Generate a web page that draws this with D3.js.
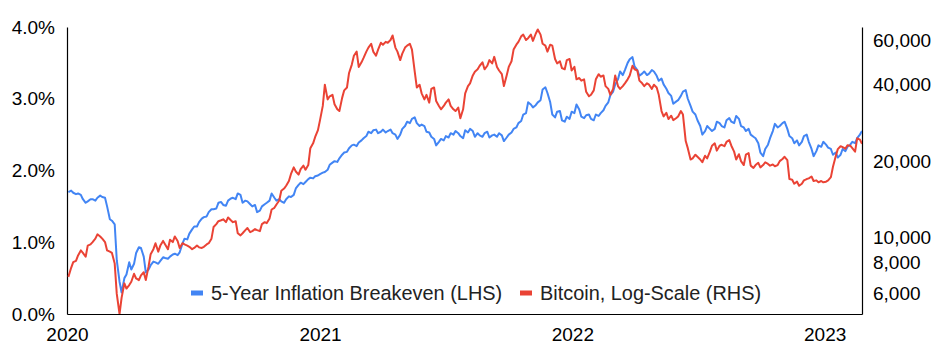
<!DOCTYPE html>
<html>
<head>
<meta charset="utf-8">
<script src="https://cdn.jsdelivr.net/npm/d3@7/dist/d3.min.js"></script>
<style>
  html, body { margin: 0; padding: 0; background: #fff; }
  svg { display: block; font-family: "Liberation Sans", Arial, sans-serif; }
</style>
</head>
<body>
<svg id="chart" width="942" height="354"></svg>
<script>
// ---- Data ----
// Friday observations from 2020-01-03, plus Tuesday observations between them.
const firstFriday = "2020-01-03";

// 5-Year Inflation Breakeven, % (LHS) — Fridays
const breakevenFri = [
  1.70,1.69,1.68,1.60,1.57,1.60,1.62,1.63,1.50,1.30,
  0.75,0.30,0.55,0.62,0.85,0.92,0.58,0.68,0.72,0.74,
  0.78,0.80,0.84,0.86,1.05,1.12,1.22,1.28,1.35,1.42,
  1.46,1.55,1.52,1.58,1.62,1.68,1.55,1.57,1.50,1.42,
  1.50,1.55,1.68,1.58,1.57,1.60,1.63,1.75,1.83,1.84,
  1.90,1.92,1.95,1.98,2.08,2.13,2.17,2.25,2.31,2.36,
  2.39,2.45,2.54,2.56,2.52,2.57,2.55,2.52,2.44,2.58,
  2.68,2.72,2.66,2.64,2.54,2.47,2.35,2.44,2.48,2.52,
  2.55,2.48,2.56,2.58,2.47,2.49,2.52,2.46,2.50,2.52,
  2.41,2.50,2.58,2.66,2.78,2.95,2.88,2.95,3.13,3.08,
  2.78,2.82,2.70,2.75,2.82,2.92,2.75,2.77,2.72,2.78,
  2.80,2.90,3.05,3.20,3.38,3.40,3.55,3.45,3.32,3.38,
  3.35,3.38,3.25,3.20,3.08,2.93,2.98,3.10,3.00,2.82,
  2.70,2.50,2.62,2.55,2.68,2.62,2.70,2.68,2.76,2.62,
  2.55,2.50,2.45,2.25,2.30,2.45,2.65,2.62,2.68,2.48,
  2.38,2.35,2.48,2.40,2.20,2.35,2.40,2.32,2.22,2.18,
  2.30,2.33,2.40,2.45,2.55
];
// 5-Year Inflation Breakeven, % — Tuesdays (between consecutive Fridays)
const breakevenTue = [
  1.72,1.67,1.66,1.55,1.60,1.58,1.65,1.62,1.32,1.25,
  0.45,0.50,0.72,0.70,0.93,0.80,0.62,0.73,0.70,0.79,
  0.77,0.83,0.82,0.98,1.04,1.18,1.22,1.33,1.36,1.46,
  1.47,1.56,1.51,1.61,1.60,1.66,1.58,1.53,1.52,1.44,
  1.53,1.58,1.62,1.60,1.55,1.64,1.66,1.80,1.81,1.88,
  1.89,1.93,1.97,2.01,2.11,2.12,2.22,2.26,2.35,2.34,
  2.42,2.48,2.52,2.57,2.54,2.53,2.57,2.50,2.50,2.62,
  2.66,2.74,2.62,2.62,2.53,2.44,2.40,2.42,2.46,2.50,
  2.52,2.45,2.53,2.55,2.52,2.47,2.54,2.49,2.47,2.49,
  2.46,2.53,2.60,2.69,2.80,2.92,2.91,2.98,3.16,2.95,
  2.74,2.83,2.68,2.72,2.80,2.85,2.73,2.78,2.70,2.76,
  2.84,2.95,3.10,3.27,3.33,3.50,3.58,3.40,3.35,3.33,
  3.40,3.32,3.28,3.14,3.04,2.96,3.04,3.12,2.90,2.78,
  2.62,2.55,2.58,2.58,2.66,2.60,2.73,2.66,2.72,2.60,
  2.58,2.47,2.38,2.20,2.36,2.55,2.60,2.66,2.58,2.45,
  2.42,2.40,2.50,2.30,2.27,2.33,2.36,2.30,2.25,2.22,
  2.27,2.36,2.38,2.50
];

// Bitcoin price, USD (RHS, log scale) — Fridays
const bitcoinFri = [
  7000,8000,8500,8700,9300,9600,10300,9900,8900,8700,
  6000,5800,6300,6700,6900,7100,6800,8600,9500,9300,
  9400,9800,10100,9100,9400,9200,9100,9150,9200,9500,
  11000,11600,11800,12000,11500,10400,10400,10900,10600,10700,
  11300,11400,12900,13500,15300,16000,17800,18200,18600,18500,
  22500,24900,29000,40000,36000,33500,31500,38000,44500,52000,
  47000,51000,56000,54000,55000,57500,58500,62500,54000,53000,
  57000,55000,39000,37000,36500,38500,34500,32000,34000,33000,
  31500,29500,37000,40500,45000,47500,46000,50000,51500,45500,
  39500,47000,55000,59000,63000,61000,59500,66000,58000,54000,
  57000,48500,46500,50000,45500,42000,41500,37500,36500,42000,
  43000,39500,36500,43500,38500,40500,43500,46000,41500,39500,
  40000,40000,36500,30000,29300,29000,30000,30500,22500,20500,
  20800,19800,20500,23000,22000,23200,23800,23000,20300,20000,
  21200,19200,19300,18900,19800,19200,19100,20000,20800,17000,
  16300,16000,16800,17100,16700,16500,16500,16800,19000,22300,
  22700,23100,22500,24600,23400
];
// Bitcoin price, USD — Tuesdays
const bitcoinTue = [
  7600,8100,8900,8400,9400,9900,10100,9600,8800,7900,
  5000,6600,6500,7200,6800,7300,7700,9000,8800,9700,
  9000,9600,9700,9500,9300,9000,9300,9100,9400,9900,
  11300,11700,11500,11700,11600,10200,10700,10500,10800,10600,
  11500,11900,13100,14000,15600,16700,18900,17700,19200,19300,
  23500,26500,33000,35000,36500,32000,35500,39000,48000,54000,
  49000,54000,58000,52000,58500,59000,60000,56000,50000,56000,
  58000,45000,40000,35000,34000,39000,33000,33000,35000,32000,
  32500,32000,39500,43500,46000,49000,47500,48500,47000,44000,
  43500,49500,57500,62000,60000,63000,63500,63000,57000,57500,
  50500,49500,46000,50500,47000,42500,42000,36000,38000,44000,
  43500,38500,38500,39500,39500,42000,47500,45500,40500,40500,
  38500,39000,31500,31000,30200,29500,31500,24000,20300,21200,
  20300,21000,21800,23500,23000,22900,24200,21800,21300,19300,
  21500,18800,19700,19300,19500,19400,19300,20400,20200,16900,
  16600,16300,17000,17400,16800,16700,16600,17300,20900,22900,
  22400,23000,21800,24300
];

const yearTicks = ["2020-01-01", "2021-01-01", "2022-01-01", "2023-01-01"];
const leftTicks = [0, 1, 2, 3, 4];
const rightTicks = [6000, 8000, 10000, 20000, 40000, 60000];
const seriesNames = ["5-Year Inflation Breakeven (LHS)", "Bitcoin, Log-Scale (RHS)"];
const seriesColors = ["#4285F4", "#EA4335"];

// ---- Build table ----
const parse = d3.utcParse("%Y-%m-%d");
const start = parse(firstFriday);
function merge(fri, tue) {
  const out = [];
  fri.forEach((v, i) => {
    const d = d3.utcDay.offset(start, i * 7);
    out.push({ date: d, value: v });
    if (i < tue.length && i < fri.length - 1) {
      out.push({ date: d3.utcDay.offset(d, 4), value: tue[i] });
    }
  });
  return out;
}
const breakevenData = merge(breakevenFri, breakevenTue);
const bitcoinData = merge(bitcoinFri, bitcoinTue);

const svg = d3.select("#chart");
const L = 67, R = 862, T = 27, B = 314;

const x = d3.scaleUtc()
  .domain([parse("2020-01-01"), parse("2023-02-24")])
  .range([L, R]);
const yL = d3.scaleLinear().domain([0, 4]).range([B, T]);
const yR = d3.scaleLog().domain([5000, 67500]).range([B, T]);

const fontSize = 19;
const ff = "'Liberation Sans', Arial, sans-serif";

// Left axis
const gL = svg.append("g").attr("transform", `translate(${L},0)`)
  .call(d3.axisLeft(yL).tickValues(leftTicks).tickSize(0).tickPadding(12)
    .tickFormat(d => d3.format(".1f")(d) + "%"));
gL.select(".domain").attr("stroke", "#000").attr("stroke-width", 1.2);
gL.selectAll("text").attr("font-size", fontSize).attr("fill", "#000").attr("font-family", ff);

// Right axis
const gR = svg.append("g").attr("transform", `translate(${R},0)`)
  .call(d3.axisRight(yR).tickValues(rightTicks).tickSize(0).tickPadding(11)
    .tickFormat(d3.format(",")));
gR.select(".domain").attr("stroke", "#000").attr("stroke-width", 1.2);
gR.selectAll("text").attr("font-size", fontSize).attr("fill", "#000").attr("font-family", ff);

// Bottom axis
const gB = svg.append("g").attr("transform", `translate(0,${B})`)
  .call(d3.axisBottom(x).tickValues(yearTicks.map(parse)).tickSize(0).tickPadding(14)
    .tickFormat(d3.utcFormat("%Y")));
gB.select(".domain").attr("stroke", "#000").attr("stroke-width", 1.2);
gB.selectAll("text").attr("font-size", fontSize).attr("fill", "#000").attr("font-family", ff);

// Lines
svg.append("clipPath").attr("id", "clip")
  .append("rect").attr("x", L).attr("y", T - 5).attr("width", R - L).attr("height", B - T + 5);

const lineL = d3.line().x(d => x(d.date)).y(d => yL(d.value));
const lineR = d3.line().x(d => x(d.date)).y(d => yR(d.value));

const plot = svg.append("g").attr("clip-path", "url(#clip)");
plot.append("path").datum(breakevenData).attr("d", lineL)
  .attr("fill", "none").attr("stroke", seriesColors[0]).attr("stroke-width", 2)
  .attr("stroke-linejoin", "round");
plot.append("path").datum(bitcoinData).attr("d", lineR)
  .attr("fill", "none").attr("stroke", seriesColors[1]).attr("stroke-width", 2)
  .attr("stroke-linejoin", "round");

// Legend
const legendY = 293;
const legendItems = [{ sx: 191, tx: 211 }, { sx: 520, tx: 540 }];
legendItems.forEach((it, i) => {
  svg.append("rect").attr("x", it.sx).attr("y", legendY - 2.5).attr("width", 12).attr("height", 5)
    .attr("fill", seriesColors[i]);
  svg.append("text").attr("x", it.tx).attr("y", legendY).attr("dy", "0.35em")
    .attr("font-size", 19.9).attr("font-family", ff).attr("fill", "#222").text(seriesNames[i]);
});
</script>
</body>
</html>
